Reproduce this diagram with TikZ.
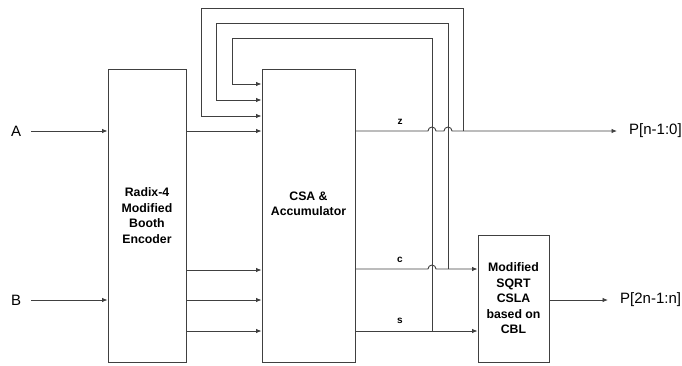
\documentclass[tikz,border=0pt]{standalone}
\usepackage{fontspec}
\setmainfont{Liberation Sans}
\usetikzlibrary{arrows.meta,calc}
\begin{document}
\begin{tikzpicture}[x=1pt,y=-1pt,
  line/.style={draw=black!75,line width=0.9pt},
  arr/.style={line,-{Latex[length=5.5pt,width=4.5pt]}},
  blk/.style={draw=black!75,line width=0.9pt,fill=white,align=center,font=\bfseries\fontsize{12.3}{15.5}\selectfont,inner sep=0pt},
  btxt/.style={align=center,font=\bfseries\fontsize{12.3}{15.5}\selectfont,inner sep=0pt},
  lbl/.style={font=\fontsize{15}{17}\selectfont,inner sep=0pt},
  sig/.style={font=\bfseries\fontsize{10}{11}\selectfont,inner sep=0pt}]
\useasboundingbox (0,0) rectangle (682,365);
% blocks
\node[blk,minimum width=78pt,minimum height=293pt] (booth) at (147,215.5) {Radix-4\\Modified\\Booth\\Encoder};
\node[blk,minimum width=93pt,minimum height=293pt] (csa) at (308.5,215.5) {};
\node[btxt] (csatext) at (308.5,204) {CSA \&\\Accumulator};
\node[blk,minimum width=71pt,minimum height=127pt] (cla) at (513.5,298.5) {Modified\\SQRT\\CSLA\\based on\\CBL};
% labels
\node[lbl,anchor=west] (A) at (11,131) {A};
\node[lbl,anchor=west] (B) at (11,300) {B};
\node[lbl,anchor=west] (P1) at (629,131) {P[n-1:0]};
\node[lbl,anchor=west] (P2) at (620,300) {P[2n-1:n]};
\coordinate (Ae) at (31,131);
\coordinate (Be) at (31,300);
\coordinate (P1w) at (617,131);
\coordinate (P2w) at (608,300);
% inputs
\draw[arr] (Ae) -- (Ae -| booth.west);
\draw[arr] (Be) -- (Be -| booth.west);
% booth to csa
\draw[arr] (booth.east |- 0,131) -- (csa.west |- 0,131);
\draw[arr] (booth.east |- 0,270) -- (csa.west |- 0,270);
\draw[arr] (booth.east |- 0,300) -- (csa.west |- 0,300);
\draw[arr] (booth.east |- 0,331) -- (csa.west |- 0,331);
% signal labels
\node[sig] (z) at (400,122) {z};
\node[sig] (c) at (400,260) {c};
\node[sig] (s) at (400,321) {s};
% z output with hops
\draw[arr] (csa.east |- 0,131) -- (428,131) arc (180:360:4) -- (444,131) arc (180:360:4) -- (P1w);
% c to cla with hop
\draw[arr] (csa.east |- 0,269) -- (428,269) arc (180:360:4) -- (cla.west |- 0,269);
% s to cla
\draw[arr] (csa.east |- 0,331) -- (cla.west |- 0,331);
% cla out
\draw[arr] (cla.east |- 0,300) -- (P2w);
% feedback loops
\draw[arr] (463,131) -- (463,8) -- (201,8) -- (201,116) -- (csa.west |- 0,116);
\draw[arr] (448,269) -- (448,23) -- (216,23) -- (216,100) -- (csa.west |- 0,100);
\draw[arr] (432,331) -- (432,38) -- (232,38) -- (232,84) -- (csa.west |- 0,84);
\end{tikzpicture}
\end{document}
